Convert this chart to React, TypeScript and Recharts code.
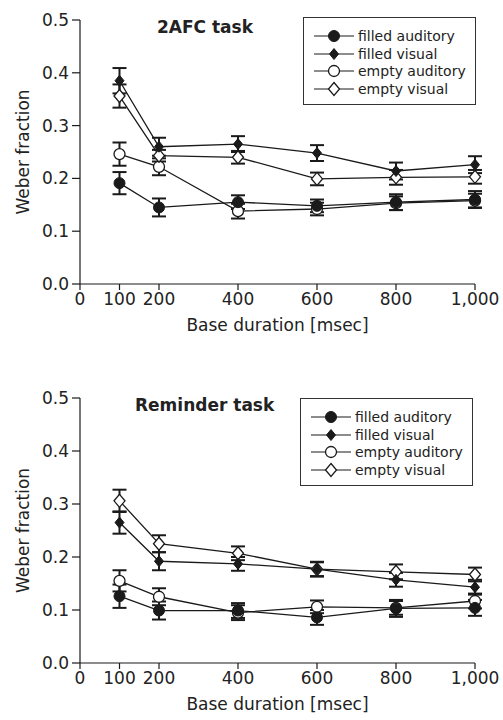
import { LineChart, Line, XAxis, YAxis, ErrorBar, Legend } from "recharts";

const FONT = "'DejaVu Sans', sans-serif";
const INK = "#1a1a1a";

const durations = [100, 200, 400, 600, 800, 1000];
const xTicks = [0, 100, 200, 400, 600, 800, 1000];
const yTicks = [0, 0.1, 0.2, 0.3, 0.4, 0.5];

const seriesNames = ["filled auditory", "filled visual", "empty auditory", "empty visual"];
const seriesKeys = ["fa", "fv", "ea", "ev"];
const markerKinds = ["circleFilled", "diamondFilled", "circleEmpty", "diamondEmpty"];
// empty markers go underneath, filled ones on top
const drawOrder = [2, 3, 0, 1];

// 2AFC task
const afcFilledAuditory = [0.191, 0.145, 0.155, 0.148, 0.155, 0.16];
const afcFilledAuditoryErr = [0.021, 0.017, 0.013, 0.012, 0.015, 0.016];
const afcFilledVisual = [0.385, 0.26, 0.265, 0.248, 0.214, 0.226];
const afcFilledVisualErr = [0.024, 0.017, 0.015, 0.015, 0.016, 0.016];
const afcEmptyAuditory = [0.246, 0.222, 0.138, 0.142, 0.153, 0.158];
const afcEmptyAuditoryErr = [0.022, 0.016, 0.014, 0.012, 0.013, 0.013];
const afcEmptyVisual = [0.356, 0.243, 0.24, 0.199, 0.202, 0.203];
const afcEmptyVisualErr = [0.022, 0.011, 0.012, 0.012, 0.014, 0.013];

// Reminder task
const remFilledAuditory = [0.126, 0.099, 0.099, 0.086, 0.103, 0.104];
const remFilledAuditoryErr = [0.022, 0.017, 0.014, 0.014, 0.016, 0.015];
const remFilledVisual = [0.265, 0.192, 0.187, 0.177, 0.157, 0.143];
const remFilledVisualErr = [0.021, 0.017, 0.013, 0.014, 0.013, 0.014];
const remEmptyAuditory = [0.155, 0.125, 0.095, 0.106, 0.104, 0.117];
const remEmptyAuditoryErr = [0.02, 0.016, 0.014, 0.012, 0.013, 0.014];
const remEmptyVisual = [0.306, 0.225, 0.207, 0.177, 0.172, 0.167];
const remEmptyVisualErr = [0.021, 0.016, 0.013, 0.013, 0.014, 0.013];

function buildRows(vals: number[][], errs: number[][]) {
  return durations.map((d, i) => {
    const row: Record<string, number> = { x: d };
    seriesKeys.forEach((k, s) => {
      row[k] = vals[s][i];
      row[k + "Err"] = errs[s][i];
    });
    return row;
  });
}

const afcData = buildRows(
  [afcFilledAuditory, afcFilledVisual, afcEmptyAuditory, afcEmptyVisual],
  [afcFilledAuditoryErr, afcFilledVisualErr, afcEmptyAuditoryErr, afcEmptyVisualErr]
);
const remData = buildRows(
  [remFilledAuditory, remFilledVisual, remEmptyAuditory, remEmptyVisual],
  [remFilledAuditoryErr, remFilledVisualErr, remEmptyAuditoryErr, remEmptyVisualErr]
);

function Marker({ cx, cy, kind }: { cx: number; cy: number; kind: string }) {
  if (cx == null || cy == null) return null;
  if (kind === "circleFilled") return <circle cx={cx} cy={cy} r={5.5} fill={INK} stroke={INK} />;
  if (kind === "circleEmpty")
    return <circle cx={cx} cy={cy} r={5.5} fill="#fff" stroke={INK} strokeWidth={1.3} />;
  if (kind === "diamondFilled")
    return (
      <path
        d={`M${cx},${cy - 5.5} L${cx + 4.5},${cy} L${cx},${cy + 5.5} L${cx - 4.5},${cy} Z`}
        fill={INK}
        stroke={INK}
      />
    );
  return (
    <path
      d={`M${cx},${cy - 6.5} L${cx + 5.5},${cy} L${cx},${cy + 6.5} L${cx - 5.5},${cy} Z`}
      fill="#fff"
      stroke={INK}
      strokeWidth={1.3}
    />
  );
}

function LegendBox() {
  return (
    <div
      style={{
        border: "1.3px solid #333",
        background: "#fff",
        padding: "9px 0 6px 10px",
        boxSizing: "border-box",
        width: 173,
        fontFamily: FONT,
        fontSize: 14,
        color: "#222",
      }}
    >
      {seriesNames.map((name, i) => (
        <div key={name} style={{ display: "flex", alignItems: "center", height: 17.7 }}>
          <svg width={40} height={16} style={{ flex: "none" }}>
            <line x1={0} y1={8} x2={40} y2={8} stroke={INK} strokeWidth={1.2} />
            <Marker cx={20} cy={8} kind={markerKinds[i]} />
          </svg>
          <span style={{ marginLeft: 4, lineHeight: 1, whiteSpace: "nowrap" }}>{name}</span>
        </div>
      ))}
    </div>
  );
}

function YTitle(props: any) {
  const { x, y, height } = props.viewBox;
  const cx = x + 23;
  const cy = y + height / 2;
  return (
    <text
      x={cx}
      y={cy}
      transform={`rotate(-90 ${cx} ${cy})`}
      textAnchor="middle"
      dominantBaseline="central"
      fontFamily={FONT}
      fontSize={17}
      fill="#222"
    >
      Weber fraction
    </text>
  );
}

function XTitle(props: any) {
  const { x, y, width } = props.viewBox;
  return (
    <text
      x={x + width / 2}
      y={y + 41}
      textAnchor="middle"
      dominantBaseline="central"
      fontFamily={FONT}
      fontSize={17}
      fill="#222"
    >
      Base duration [msec]
    </text>
  );
}

interface PanelProps {
  data: Record<string, number>[];
  title: string;
  top: number;
  height: number;
  marginTop: number;
  titleLeft: number;
  titleTop: number;
  legendLeft: number;
  legendTop: number;
}

function Panel({ data, title, top, height, marginTop, titleLeft, titleTop, legendLeft, legendTop }: PanelProps) {
  const tickStyle = { fontSize: 17, fill: "#222", fontFamily: FONT };
  return (
    <div style={{ position: "absolute", left: 0, top, width: 503, height }}>
      <LineChart width={503} height={height} data={data} margin={{ top: marginTop, right: 28, bottom: 16, left: 0 }}>
        <XAxis
          dataKey="x"
          type="number"
          domain={[0, 1000]}
          ticks={xTicks}
          interval={0}
          tickFormatter={(v: number) => v.toLocaleString("en-US")}
          tick={tickStyle}
          tickSize={6}
          tickMargin={3}
          height={60}
          stroke={INK}
          strokeWidth={1.2}
          label={{ content: XTitle }}
        />
        <YAxis
          type="number"
          domain={[0, 0.5]}
          ticks={yTicks}
          interval={0}
          tickFormatter={(v: number) => v.toFixed(1)}
          tick={tickStyle}
          tickSize={8}
          tickMargin={3}
          width={80}
          stroke={INK}
          strokeWidth={1.2}
          label={{ content: YTitle }}
        />
        {drawOrder.map((i) => {
          const k = seriesKeys[i];
          return (
            <Line
              key={k}
              dataKey={k}
              name={seriesNames[i]}
              stroke={INK}
              strokeWidth={1.3}
              isAnimationActive={false}
              dot={(p: any) => <Marker key={`${k}-${p.index}`} cx={p.cx} cy={p.cy} kind={markerKinds[i]} />}
              activeDot={false}
            >
              <ErrorBar dataKey={k + "Err"} direction="y" width={7} stroke={INK} strokeWidth={2} isAnimationActive={false} />
            </Line>
          );
        })}
        <Legend
          layout="vertical"
          align="center"
          verticalAlign="middle"
          content={() => <LegendBox />}
          wrapperStyle={{ left: legendLeft, top: legendTop, width: 173, right: "auto", bottom: "auto" }}
        />
      </LineChart>
      <div
        style={{
          position: "absolute",
          left: titleLeft,
          top: titleTop,
          fontFamily: FONT,
          fontWeight: "bold",
          fontSize: 17,
          lineHeight: 1,
          color: "#222",
          whiteSpace: "nowrap",
        }}
      >
        {title}
      </div>
    </div>
  );
}

export default function App() {
  return (
    <div style={{ position: "absolute", left: 0, top: 0, width: 503, height: 720, background: "#fff" }}>
      <Panel
        data={afcData}
        title="2AFC task"
        top={0}
        height={360}
        marginTop={20}
        titleLeft={157}
        titleTop={19}
        legendLeft={303}
        legendTop={17}
      />
      <Panel
        data={remData}
        title="Reminder task"
        top={360}
        height={379}
        marginTop={38}
        titleLeft={135}
        titleTop={37}
        legendLeft={300}
        legendTop={38}
      />
    </div>
  );
}
